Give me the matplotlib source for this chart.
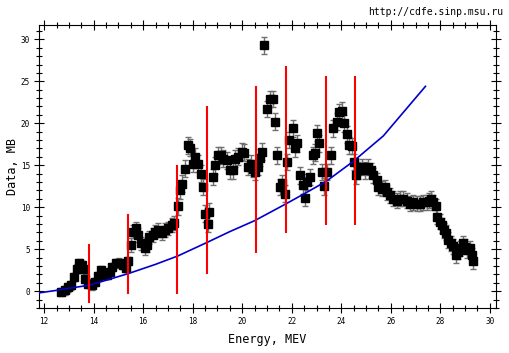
import numpy as np
import matplotlib
matplotlib.use("Agg")
import matplotlib.pyplot as plt
from matplotlib.ticker import MultipleLocator

# measured points (energy in MeV, cross section in mb)
energy = [12.70, 12.84, 12.97, 13.10, 13.20, 13.31, 13.41, 13.51, 13.58, 13.64,
          13.78, 13.92, 14.05, 14.18, 14.28, 14.38, 14.52, 14.65, 14.76, 14.90,
          15.03, 15.17, 15.30, 15.39, 15.50, 15.57, 15.70, 15.80, 15.93, 16.07,
          16.14, 16.24, 16.38, 16.47, 16.61, 16.74, 16.88, 17.01, 17.15, 17.24,
          17.39, 17.48, 17.58, 17.68, 17.79, 17.91, 18.02, 18.09, 18.20, 18.33,
          18.42, 18.49, 18.60, 18.66, 18.83, 18.90, 19.03, 19.13, 19.23, 19.37,
          19.50, 19.64, 19.70, 19.84, 19.98, 20.08, 20.24, 20.34, 20.44, 20.50,
          20.65, 20.72, 20.78, 20.88, 20.99, 21.12, 21.23, 21.31, 21.39, 21.52,
          21.61, 21.73, 21.79, 21.90, 22.04, 22.13, 22.22, 22.33, 22.44, 22.53,
          22.62, 22.72, 22.84, 22.94, 23.03, 23.11, 23.21, 23.30, 23.41, 23.57,
          23.68, 23.81, 23.92, 24.03, 24.11, 24.22, 24.31, 24.42, 24.51, 24.59,
          24.69, 24.82, 24.96, 25.09, 25.19, 25.29, 25.43, 25.50, 25.63, 25.77,
          25.86, 25.97, 26.10, 26.24, 26.37, 26.51, 26.64, 26.78, 26.91, 27.05,
          27.18, 27.32, 27.45, 27.55, 27.64, 27.72, 27.83, 27.88, 27.99, 28.06,
          28.15, 28.23, 28.32, 28.42, 28.53, 28.63, 28.73, 28.80, 28.90, 29.00,
          29.09, 29.20, 29.27, 29.33]
data = [-0.1, 0.1, 0.45, 0.7, 1.7, 2.7, 3.3, 3.1, 2.7, 1.5,
        0.9, 0.7, 1.1, 1.8, 2.5, 1.9, 1.9, 2.3, 2.9, 3.3,
        3.4, 3.1, 2.8, 3.6, 5.5, 7.1, 7.5, 6.7, 5.7, 5.1,
        5.5, 6.4, 6.7, 7.1, 7.3, 6.9, 7.3, 7.5, 7.9, 8.1,
        10.1, 12.0, 12.8, 14.6, 17.4, 17.1, 15.2, 16.0, 15.2, 14.0,
        12.4, 9.25, 8.05, 9.45, 13.6, 15.0, 16.2, 16.2, 15.8, 15.6,
        14.4, 14.4, 15.8, 16.0, 16.6, 16.5, 14.8, 15.2, 14.6, 14.2,
        14.8, 15.9, 16.6, 29.3, 21.7, 22.9, 22.9, 20.2, 16.2, 12.4,
        12.9, 11.6, 15.4, 18.0, 19.4, 17.0, 17.6, 13.8, 12.6, 11.15,
        13.0, 13.6, 16.2, 16.5, 18.85, 17.6, 14.2, 12.5, 14.2, 16.2,
        19.4, 20.2, 21.35, 21.5, 20.0, 18.7, 17.4, 17.3, 15.4, 13.8,
        14.4, 14.8, 14.4, 14.8, 14.4, 13.8, 13.2, 12.4, 12.2, 12.4,
        11.8, 11.4, 11.0, 10.8, 11.0, 11.0, 10.8, 10.4, 10.6, 10.4,
        10.4, 10.6, 10.6, 10.8, 11.0, 10.6, 10.1, 8.85, 8.25, 7.85,
        7.25, 6.95, 6.1, 5.7, 5.35, 4.3, 4.7, 5.1, 5.7, 5.3,
        4.9, 5.1, 4.3, 3.6]
errors = [0.5] * 24 + [0.8] * 16 + [1.0] * 74 + [0.9] * 40

# theory curve
curve_e = [11.8, 12.5, 13.0, 13.8, 14.5, 15.4, 16.5, 17.4, 18.5, 19.5,
           20.5, 21.7, 22.5, 23.4, 24.5, 25.7, 27.4]
curve_y = [-0.2, 0.1, 0.35, 0.7, 1.3, 2.1, 3.2, 4.2, 5.7, 7.1,
           8.4, 10.3, 11.6, 13.1, 15.5, 18.5, 24.4]

# red vertical markers
line_e = [13.81, 15.37, 17.36, 18.56, 20.57, 21.75, 23.37, 24.57]
line_lo = [-1.4, -0.35, -0.35, 2.0, 4.5, 6.9, 7.9, 7.9]
line_hi = [5.6, 9.2, 15.0, 22.1, 24.4, 26.8, 25.6, 25.6]

fig = plt.figure(figsize=(5.09, 3.53), dpi=100)
ax = fig.add_axes([0.077, 0.1275, 0.897, 0.8015])

ax.errorbar(energy, data, yerr=errors, fmt="s", color="black", ms=5.5,
            ecolor="#707070", elinewidth=1, capsize=2.5, capthick=1, zorder=2)
ax.plot(curve_e, curve_y, color="#0000cc", lw=1.2, zorder=3)
ax.vlines(line_e, line_lo, line_hi, color="red", lw=1.5, zorder=4)

ax.set_xlim(11.8, 30.24)
ax.set_ylim(-2.0, 31.7)
ax.xaxis.set_major_locator(MultipleLocator(2))
ax.xaxis.set_minor_locator(MultipleLocator(0.5))
ax.yaxis.set_major_locator(MultipleLocator(5))
ax.yaxis.set_minor_locator(MultipleLocator(1))
ax.tick_params(which="both", direction="inout", top=True, right=True,
               labelsize=5.5, width=0.8)
ax.tick_params(which="major", length=7, pad=3)
ax.tick_params(which="minor", length=4)
for lab in ax.get_xticklabels() + ax.get_yticklabels():
    lab.set_family("DejaVu Sans Mono")
for sp in ax.spines.values():
    sp.set_linewidth(0.8)

ax.set_xlabel("Energy, MEV", family="DejaVu Sans Mono", fontsize=8.5, va="center")
ax.set_ylabel("Data, MB", family="DejaVu Sans Mono", fontsize=8.5, va="center")
ax.xaxis.set_label_coords(0.5, -0.113)
ax.yaxis.set_label_coords(-0.059, 0.5)
fig.text(0.988, 0.965, "http://cdfe.sinp.msu.ru", ha="right", va="center",
         family="DejaVu Sans Mono", fontsize=7)

fig.savefig("out.png", dpi=100)
